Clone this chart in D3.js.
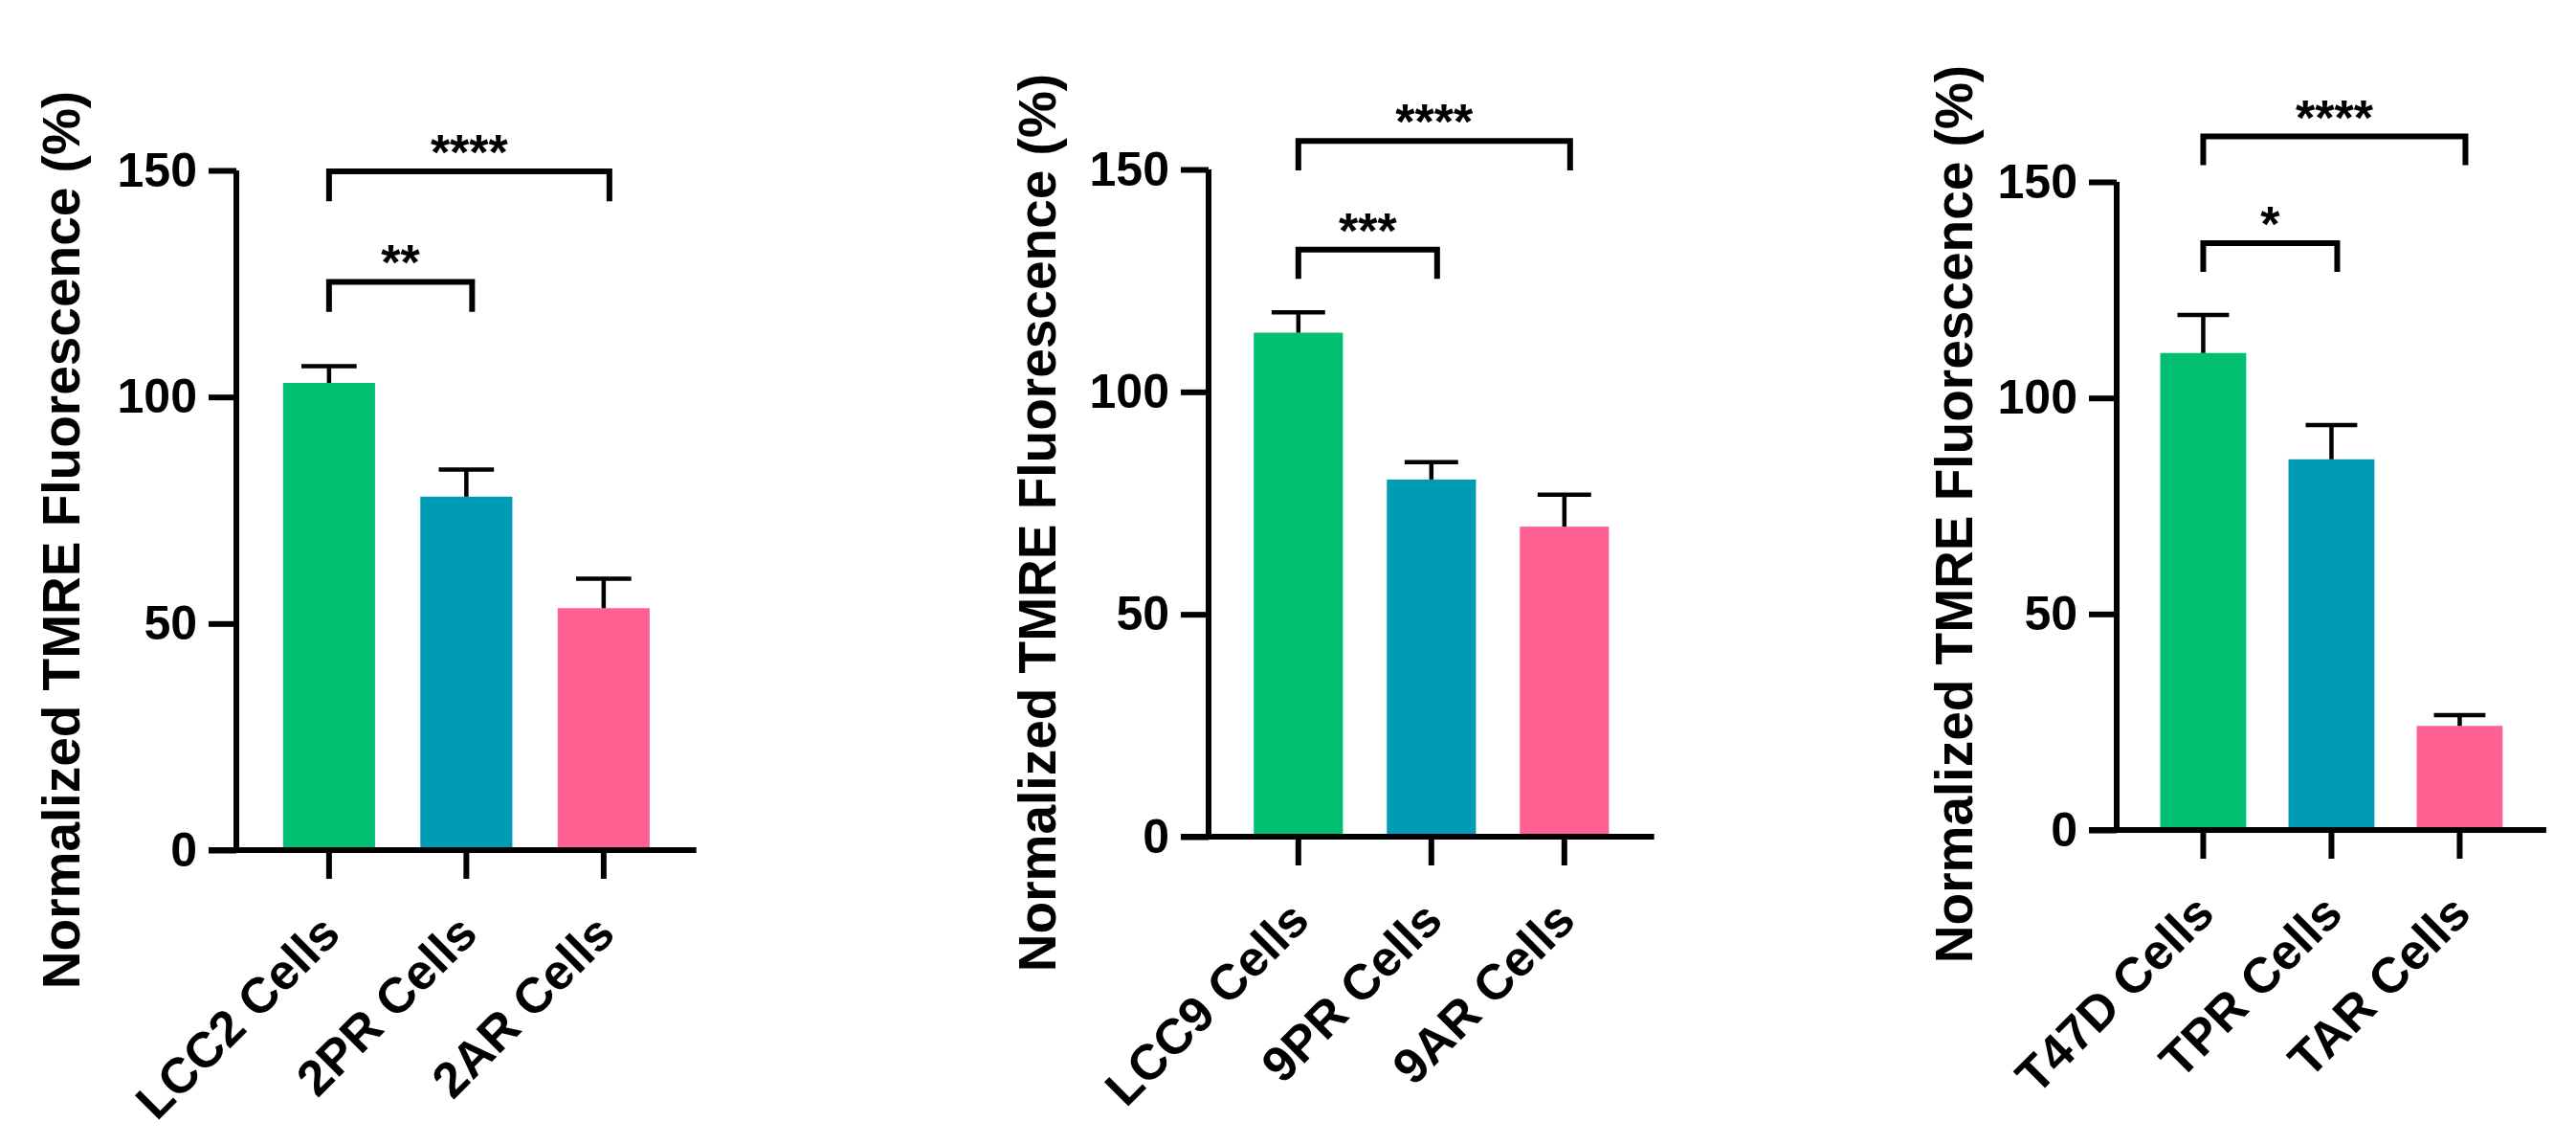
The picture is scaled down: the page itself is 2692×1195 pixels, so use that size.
<!DOCTYPE html>
<html>
<head>
<meta charset="utf-8">
<script src="https://cdn.jsdelivr.net/npm/d3@7"></script>
<style>
  html, body { margin: 0; padding: 0; background: #ffffff; }
  svg { display: block; }
  text { font-family: "Liberation Sans", Arial, Helvetica, sans-serif; font-weight: bold; fill: #000; }
</style>
</head>
<body>
<svg id="chart" width="2692" height="1195"></svg>
<script>
// ---------------- DATA ----------------
const yTicks = [0, 50, 100, 150];
const yTitle = "Normalized TMRE Fluorescence (%)";
const colors = ["#00BF70", "#009CB6", "#FF6192"];

const categoriesA = ["LCC2 Cells", "2PR Cells", "2AR Cells"];
const meansA = [103.1, 78.0, 53.4];
const errorsA = [3.7, 6.0, 6.5];
const sigA = [
  { from: 0, to: 1, level: 125.4, label: "**" },
  { from: 0, to: 2, level: 149.8, label: "****" }
];

const categoriesB = ["LCC9 Cells", "9PR Cells", "9AR Cells"];
const meansB = [113.3, 80.3, 69.7];
const errorsB = [4.6, 3.9, 7.2];
const sigB = [
  { from: 0, to: 1, level: 132.0, label: "***" },
  { from: 0, to: 2, level: 156.4, label: "****" }
];

const categoriesC = ["T47D Cells", "TPR Cells", "TAR Cells"];
const meansC = [110.4, 85.8, 24.1];
const errorsC = [8.8, 7.9, 2.5];
const sigC = [
  { from: 0, to: 1, level: 135.8, label: "*" },
  { from: 0, to: 2, level: 160.5, label: "****" }
];

// ---------------- LAYOUT ----------------
const panels = [
  { cats: categoriesA, means: meansA, errs: errorsA, sig: sigA,
    axisX: 247, y0: 888, yTop: 178, step: 143.5, titleX: 83, titleY: 564 },
  { cats: categoriesB, means: meansB, errs: errorsB, sig: sigB,
    axisX: 1263, y0: 874, yTop: 177, step: 139, titleX: 1103, titleY: 546 },
  { cats: categoriesC, means: meansC, errs: errorsC, sig: sigC,
    axisX: 2212, y0: 867, yTop: 190, step: 134, titleX: 2061, titleY: 537 }
];

const padInner = 0.33, padOuter = 0.34;
const lw = 6;          // axis line width
const tickLen = 29;
const svg = d3.select("#chart");

panels.forEach(p => {
  const g = svg.append("g");
  const r1 = p.axisX + p.step * (p.cats.length - padInner + 2 * padOuter);
  const x = d3.scaleBand().domain(p.cats).range([p.axisX, r1])
              .paddingInner(padInner).paddingOuter(padOuter);
  const y = d3.scaleLinear().domain([0, 150]).range([p.y0, p.yTop]);

  // bars
  g.selectAll("rect.bar").data(p.cats).enter().append("rect")
    .attr("class", "bar")
    .attr("x", d => x(d))
    .attr("width", x.bandwidth())
    .attr("y", (d, i) => y(p.means[i]))
    .attr("height", (d, i) => y(0) - y(p.means[i]))
    .attr("fill", (d, i) => colors[i]);

  // error bars (upper only)
  const capW = x.bandwidth() * 0.6;
  p.cats.forEach((c, i) => {
    const cx = x(c) + x.bandwidth() / 2;
    g.append("line").attr("x1", cx).attr("x2", cx)
      .attr("y1", y(p.means[i])).attr("y2", y(p.means[i] + p.errs[i]))
      .attr("stroke", "#000").attr("stroke-width", 4.5);
    g.append("line").attr("x1", cx - capW / 2).attr("x2", cx + capW / 2)
      .attr("y1", y(p.means[i] + p.errs[i])).attr("y2", y(p.means[i] + p.errs[i]))
      .attr("stroke", "#000").attr("stroke-width", 4.5);
  });

  // y axis
  const yAxis = d3.axisLeft(y).tickValues(yTicks).tickSize(tickLen).tickPadding(12).tickSizeOuter(0);
  const ya = g.append("g").attr("transform", `translate(${p.axisX},0)`).call(yAxis);
  ya.select(".domain").attr("stroke", "#000").attr("stroke-width", lw)
    .attr("d", `M0,${p.y0 + lw/2}V${p.yTop}`);
  ya.selectAll(".tick line").attr("stroke", "#000").attr("stroke-width", lw);
  ya.selectAll(".tick text").style("font-size", "50px")
    .style("font-family", '"Liberation Sans", Arial, sans-serif').style("font-weight", "bold");

  // x axis
  const xAxis = d3.axisBottom(x).tickSize(30).tickPadding(8).tickSizeOuter(0);
  const xa = g.append("g").attr("transform", `translate(0,${p.y0})`).call(xAxis);
  xa.select(".domain").attr("stroke", "#000").attr("stroke-width", lw)
    .attr("d", `M${p.axisX - tickLen},0H${r1}`);
  xa.selectAll(".tick line").attr("stroke", "#000").attr("stroke-width", lw);
  xa.selectAll(".tick text")
    .style("font-size", "52px")
    .style("font-family", '"Liberation Sans", Arial, sans-serif').style("font-weight", "bold")
    .attr("text-anchor", "end")
    .attr("dy", null)
    .attr("y", 0)
    .attr("transform", "translate(14,90) rotate(-45)");

  // significance brackets
  const legUnits = 6.6;
  p.sig.forEach(s => {
    const xa1 = x(p.cats[s.from]) + x.bandwidth() / 2;
    const xa2 = x(p.cats[s.to]) + x.bandwidth() / 2 + 6;
    const yl = y(s.level), yb = y(s.level - legUnits);
    g.append("path")
      .attr("d", `M${xa1},${yb}V${yl}H${xa2}V${yb}`)
      .attr("fill", "none").attr("stroke", "#000").attr("stroke-width", lw)
      .attr("stroke-linejoin", "miter");
    g.append("text")
      .attr("x", (xa1 + xa2) / 2)
      .attr("y", yl - 2)
      .attr("text-anchor", "middle")
      .style("font-size", "52px")
      .text(s.label);
  });

  // y title
  g.append("text")
    .attr("transform", `translate(${p.titleX},${p.titleY}) rotate(-90)`)
    .attr("text-anchor", "middle")
    .style("font-size", "55px")
    .text(yTitle);
});
</script>
</body>
</html>
